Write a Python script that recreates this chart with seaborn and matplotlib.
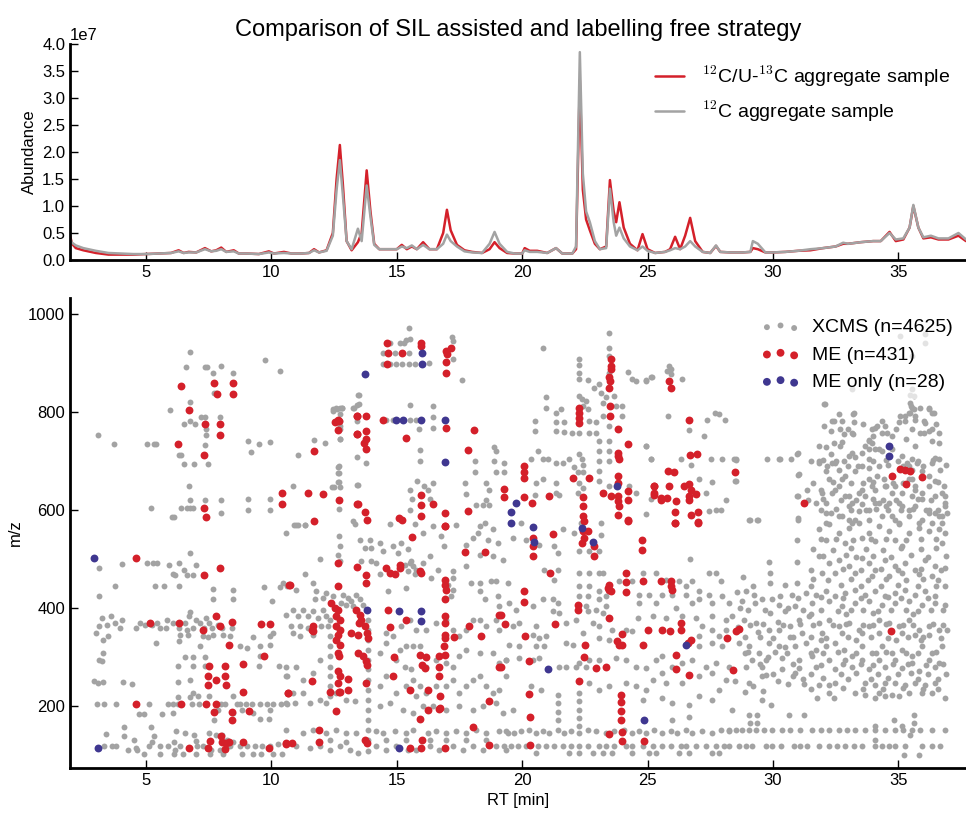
import numpy as np
import matplotlib
matplotlib.use("Agg")
import matplotlib.pyplot as plt
import seaborn as sns

# ---------------- chromatogram (TIC) data, abundance in units of 1e7 ----------------
tic_rt = [1.97, 2.05, 2.2, 2.5, 3.0, 3.5, 4.0, 4.5, 5.0, 5.5,
          6.0, 6.3, 6.5, 6.7, 7.0, 7.35, 7.6, 7.8, 8.0, 8.2,
          8.5, 8.7, 9.0, 9.5, 9.9, 10.1, 10.5, 10.8, 11.2, 11.5,
          11.7, 11.9, 12.2, 12.45, 12.6, 12.73, 12.85, 13.0, 13.2, 13.45,
          13.6, 13.8, 13.95, 14.1, 14.3, 14.6, 15.0, 15.2, 15.4, 15.6,
          15.8, 16.05, 16.3, 16.6, 16.85, 17.0, 17.15, 17.4, 17.7, 18.0,
          18.4, 18.7, 18.9, 19.1, 19.4, 19.7, 20.0, 20.1, 20.3, 20.6,
          21.0, 21.35, 21.6, 22.0, 22.15, 22.3, 22.42, 22.55, 22.7, 22.9,
          23.1, 23.35, 23.5, 23.65, 23.75, 23.88, 24.05, 24.3, 24.6, 24.8,
          25.0, 25.3, 25.7, 25.9, 26.1, 26.3, 26.5, 26.7, 26.9, 27.2,
          27.5, 27.73, 27.9, 28.3, 28.8, 29.1, 29.2, 29.4, 29.7, 30.0,
          30.5, 31.0, 31.5, 32.0, 32.5, 32.8, 33.0, 33.5, 34.0, 34.3,
          34.65, 34.9, 35.2, 35.45, 35.6, 35.8, 36.0, 36.3, 36.6, 37.0,
          37.4, 37.7]
tic_sil = [0.45, 0.3, 0.22, 0.18, 0.13, 0.1, 0.1, 0.1, 0.11, 0.12,
           0.13, 0.18, 0.13, 0.15, 0.14, 0.22, 0.16, 0.18, 0.23, 0.15,
           0.18, 0.12, 0.12, 0.11, 0.16, 0.12, 0.15, 0.12, 0.12, 0.13,
           0.2, 0.14, 0.18, 0.5, 1.5, 2.13, 1.4, 0.35, 0.18, 0.33,
           0.5, 1.66, 0.9, 0.3, 0.2, 0.2, 0.2, 0.28, 0.2, 0.25,
           0.2, 0.33, 0.2, 0.2, 0.5, 0.93, 0.55, 0.28, 0.18, 0.15,
           0.13, 0.2, 0.33, 0.22, 0.13, 0.12, 0.12, 0.22, 0.17, 0.17,
           0.13, 0.22, 0.12, 0.12, 0.2, 3.33, 1.3, 0.75, 0.55, 0.3,
           0.2, 0.25, 1.48, 0.9, 0.7, 1.07, 0.6, 0.3, 0.18, 0.48,
           0.2, 0.13, 0.15, 0.2, 0.43, 0.2, 0.45, 0.78, 0.35, 0.15,
           0.13, 0.26, 0.15, 0.14, 0.14, 0.15, 0.22, 0.2, 0.14, 0.14,
           0.15, 0.17, 0.18, 0.22, 0.25, 0.3, 0.3, 0.33, 0.35, 0.35,
           0.52, 0.35, 0.38, 0.6, 1.0, 0.6, 0.4, 0.42, 0.38, 0.38,
           0.45, 0.35]
tic_12c = [0.38, 0.32, 0.27, 0.22, 0.17, 0.13, 0.12, 0.11, 0.11, 0.12,
           0.13, 0.16, 0.13, 0.14, 0.14, 0.2, 0.16, 0.17, 0.2, 0.15,
           0.16, 0.12, 0.12, 0.11, 0.14, 0.12, 0.13, 0.12, 0.12, 0.13,
           0.18, 0.14, 0.17, 0.45, 1.3, 1.85, 1.2, 0.35, 0.2, 0.58,
           0.35, 1.38, 0.8, 0.28, 0.2, 0.2, 0.2, 0.25, 0.22, 0.27,
           0.2, 0.28, 0.2, 0.2, 0.3, 0.47, 0.35, 0.25, 0.16, 0.14,
           0.13, 0.3, 0.52, 0.3, 0.15, 0.12, 0.12, 0.18, 0.15, 0.15,
           0.13, 0.22, 0.12, 0.12, 0.25, 3.85, 1.6, 0.9, 0.7, 0.35,
           0.2, 0.22, 1.32, 0.7, 0.45, 0.6, 0.4, 0.25, 0.18, 0.25,
           0.17, 0.13, 0.15, 0.18, 0.22, 0.2, 0.25, 0.35, 0.25, 0.15,
           0.13, 0.27, 0.15, 0.14, 0.14, 0.15, 0.35, 0.3, 0.14, 0.14,
           0.15, 0.17, 0.2, 0.22, 0.25, 0.32, 0.3, 0.33, 0.35, 0.35,
           0.5, 0.38, 0.4, 0.6, 1.02, 0.6, 0.42, 0.45, 0.4, 0.4,
           0.5, 0.38]

# ---------------- feature maps: (RT [min], m/z) ----------------
xcms_upper_left = [
    (6.75,921),(6.6,892),(7.36,892),(7.42,892),(7.69,880),(7.99,893),(8.48,880),(9.74,906),(10.36,884),
    (7.7,838),(7.78,838),(6.74,819),(5.96,803),(6.5,775),(6.74,782),(6.95,775),(7.2,790),(7.37,790),
    (7.97,790),(7.4,765),(7.4,752),(3.09,752),(3.74,735),(5.05,735),(5.3,735),(5.38,735),(7.34,733),
    (6.3,711),(6.4,711),(6.5,694),(6.9,694),(7.48,694),(9.06,740),(9.17,718),(9.52,735),(9.94,739),
    (11.08,711),(11.7,743),(12.13,736),(12.46,801),(12.6,806),(12.72,808),(12.8,807),(13.44,835),
    (13.25,808),(13.43,813),(12.72,795),(12.73,782),(12.73,770),(12.73,744),(13.42,782),(13.42,708),
    (12.67,688),(12.67,675),(12.67,656),(12.72,646),(12.43,646),(13.42,650),(10.88,649),(6.71,649),
    (6.75,620),(7.37,620),(7.99,620),(5.2,604),(6.03,586),(6.1,586),(6.39,604),(6.63,604),(6.75,604),
    (6.86,604),(7.99,594),(9.06,622),(9.06,600),(9.94,622),(9.94,600),(10.92,569),(11.08,569),
    (11.36,569),(12.71,602),(13.27,577)]
xcms_upper_mid = [
    (15.48,970),(14.45,919),(14.71,941),(15.14,941),(15.27,941),(15.38,946),(15.52,948),(14.94,919),
    (15.48,919),(14.45,897),(14.71,897),(14.97,897),(15.2,897),(15.47,897),(15.74,897),(16.27,900),
    (17.21,953),(17.26,944),(17.26,908),(17.59,865),(13.49,835),(13.28,808),(13.49,815),(12.46,806),
    (12.59,808),(12.83,808),(15.51,814),(16.44,811),(14.58,784),(14.85,784),(15.51,784),(15.75,784),
    (16.44,789),(16.44,767),(15.88,764),(12.72,764),(12.72,744),(13.78,696),(15.93,721),(15.93,699),
    (12.7,689),(12.7,674),(12.7,656),(12.51,646),(13.47,650),(15.8,658),(16.07,648),(16.44,655),
    (15.51,641),(15.62,621),(15.51,600),(16.24,641),(16.31,621),(17.74,655),(17.77,633),(18.12,699),
    (18.12,677),(18.89,727),(18.96,720),(18.89,699),(19.29,696),(18.96,677),(19.29,677),(18.56,655),
    (18.69,640),(18.56,620),(18.16,609),(18.42,609),(18.69,609),(20.82,929),(20.95,829),(20.95,807),
    (20.53,782),(20.53,761),(21.35,798),(21.53,805),(21.35,778),(21.68,780),(21.35,761),(21.68,759),
    (22.25,907),(22.28,895),(22.25,880),(22.25,866),(22.61,864),(22.88,848),(23.05,856),(23.14,839),
    (23.34,829),(22.28,832),(22.38,825),(22.54,822),(22.41,812),(22.61,805),(23.45,961),(23.47,931),
    (23.47,914),(23.47,880),(23.47,866),(23.67,833),(23.21,818),(23.74,812),(24.0,812),(24.0,791),
    (23.21,791),(22.94,778),(22.68,781),(22.94,757),(22.68,757),(22.28,757),(21.99,757),(23.45,771),
    (24.24,881),(24.4,866),(24.53,863),(24.93,863),(25.13,870),(24.93,730),(23.07,740),(23.47,740),
    (23.07,720),(23.47,720),(23.07,699),(23.47,699),(23.07,679),(22.28,713),(22.38,703),(22.41,692),
    (22.21,677),(22.41,677),(22.28,655),(22.41,645),(22.21,635),(21.61,696),(21.88,703),(22.08,688),
    (21.48,631),(20.35,703),(20.62,720),(20.82,703),(21.02,703),(21.35,696),(20.55,655),(20.53,631),
    (20.82,662),(21.35,655),(21.35,635),(23.07,658),(23.47,648),(24.27,648),(24.53,635),(25.13,703)]
xcms_upper_right = [
    (25.86,893),(25.93,887),(25.79,883),(25.93,876),(24.93,865),(25.17,870),(26.36,867),(25.83,791),
    (26.66,762),(27.25,750),(27.69,797),(27.85,795),(28.09,784),(27.39,784),(24.93,731),(25.13,703),
    (26.32,703),(26.72,692),(27.52,703),(27.96,703),(28.45,703),(28.51,701),(29.77,703),(30.24,703),
    (30.74,703),(30.98,713),(31.03,672),(31.01,628),(31.37,640),(27.05,663),(27.59,656),(28.51,658),
    (25.13,621),(27.32,635),(28.11,620),(24.93,592),(27.45,597),(27.72,599),(27.92,599),(29.04,580),
    (29.38,580),(31.01,580),(28.54,703),(30.27,703),(30.99,715),(31.01,670),(28.49,658),(30.97,628),
    (29.07,580),(29.42,580),(31.01,583),
    (32.03,815),(33.16,846),(32.63,795),(32.03,771),(32.36,781),(32.76,781),(33.23,797),(33.23,778),
    (33.16,757),(33.82,740),(33.95,764),(34.15,771),(34.48,771),(34.35,757),(34.75,750),(35.02,778),
    (35.28,781),(35.41,798),(35.52,812),(35.61,805),(35.88,808),(35.68,791),(35.55,764),(36.21,805),
    (36.34,798),(36.01,757),(36.34,740),(36.61,737),(36.61,757),(36.34,764),(36.01,781),(31.83,730),
    (32.3,713),(32.69,730),(33.16,716),(33.69,730),(33.95,737),(34.22,723),(34.75,723),(31.83,696),
    (32.1,679),(32.36,696),(32.63,682),(32.89,669),(33.29,679),(33.82,703),(35.15,709),(35.35,696),
    (35.55,682),(35.75,696),(35.95,679),(36.34,696),(36.61,703),(36.67,682),(36.21,669),(36.48,658),
    (36.81,648),(36.87,628),(36.87,614),(36.61,587),(36.21,594),(35.95,621),(35.68,641),(35.41,662),
    (35.55,628),(35.41,600),(35.02,614),(34.75,635),(34.49,648),(34.15,669),(33.95,648),(33.69,628),
    (33.42,635),(33.16,614),(32.89,628),(32.63,648),(32.36,635),(32.1,614),(31.9,641),(32.3,594),
    (32.63,587),(33.03,580),(33.42,597),(33.82,600),(34.22,614),(34.49,607),(34.75,587),(35.02,573),
    (35.81,573),(36.34,573),(36.74,573),(32.1,573),(33.16,573),
    (32.06,816),(33.2,796),(32.43,782),(32.69,764),(32.83,754),(33.2,754),(32.1,728),(32.43,737),
    (32.76,738),(31.83,699),(32.16,689),(32.49,696),(32.83,699),(33.03,709),(33.27,708),(33.82,743),
    (34.06,767),(34.35,781),(34.55,757),(35.08,791),(35.28,791),(35.48,798),(35.55,808),(35.48,818),
    (35.48,835),(35.68,784),(36.08,777),(36.21,808),(36.41,798),(35.88,757),(36.21,760),(36.48,706),
    (35.68,730),(35.55,703),(35.41,689),(35.55,662),(33.56,716),(33.82,723),(34.09,723),(34.35,720),
    (33.56,689),(33.82,685),(34.22,689),(34.42,662),(33.82,662),(33.56,641),(34.09,641),(34.48,648),
    (34.88,648),(35.15,634),(35.68,648),(35.94,634),(36.21,648),(36.48,628),(36.74,634),(36.87,607),
    (36.94,594),(36.74,587),(36.21,600),(35.68,607),(35.15,607),(34.62,614),(34.09,614),(33.56,611),
    (33.03,628),(33.03,607),(32.49,641),(32.23,662),(32.76,662),(31.96,634),(31.7,614),(32.1,594),
    (32.76,587),(33.29,580),(33.82,580),(34.35,587),(34.88,580),(35.41,587),(35.94,580),(36.48,594),
    (35.08,955),(36.05,959),(36.05,941),(35.55,914),(35.55,846),(35.61,833)]
xcms_lower_left = [
    (3.14,481),(4.06,489),(5.05,491),(5.29,491),(5.45,491),(5.93,487),(6.15,466),(6.06,468),(6.31,491),
    (6.51,476),(6.62,466),(6.88,466),(6.99,487),(6.75,511),(3.77,444),(3.14,423),(5.36,444),(5.72,444),
    (6.31,444),(7.68,438),(7.68,418),(8.48,437),(8.48,418),(9.72,442),(10.36,442),(10.04,413),(10.63,445),
    (2.99,348),(3.14,362),(3.26,379),(3.43,365),(3.61,383),(3.77,369),(3.97,359),(4.03,376),(4.59,359),
    (4.76,368),(4.96,365),(5.23,365),(5.42,368),(5.56,359),(5.79,359),(5.85,376),(6.09,368),(6.31,359),
    (6.55,368),(6.64,355),(6.88,359),(6.99,376),(7.15,368),(7.31,359),(7.41,379),(7.52,368),(7.65,359),
    (7.88,365),(8.05,359),(8.41,359),(6.75,391),(6.73,384),(6.35,345),(6.68,345),(7.28,342),(7.48,340),
    (7.68,345),(5.38,329),(3.27,335),(3.5,343),(3.27,308),(3.13,294),(3.24,291),(6.33,333),(7.15,321),
    (8.08,345),(8.34,342),(8.74,321),(9.01,318),(9.27,340),(9.54,321),(9.94,342),(9.94,325),(9.56,301),
    (9.5,282),(10.07,348),(10.31,282),(10.6,280),(10.64,260),(6.55,299),(6.86,299),(7.35,299),(6.29,282),
    (6.86,282),(7.35,282),(2.92,250),(3.1,246),(3.27,248),(4.07,248),(4.43,244),(6.29,248),(6.76,252),
    (6.88,226),(7.06,219),(6.29,218),(6.75,218),(7.52,219),(8.48,219),
    (3.06,204),(3.34,204),(3.81,204),(5.12,204),(5.89,204),(6.09,204),(6.29,204),(6.82,204),(7.12,204),
    (7.99,204),(8.14,204),(8.61,204),(8.74,204),(8.98,204),(9.21,204),(9.54,204),(9.81,204),(10.07,204),
    (10.4,204),(10.63,204),
    (4.72,183),(4.93,183),(5.62,183),(6.09,186),(8.81,192),(9.27,185),(9.54,173),(9.91,173),(9.94,192),
    (7.88,192),(8.48,186),(7.72,171),(3.41,143),(4.11,156),(4.14,139),(4.51,130),(4.6,113),(5.18,156),
    (5.32,139),(5.25,127),(6.21,148),(6.1,127),(6.55,144),(6.93,141),(7.0,129),
    (3.34,117),(3.63,117),(3.81,117),(5.13,117),(5.56,117),(5.89,117),(6.35,117),(7.02,117),(7.28,117),
    (8.34,117),(8.74,117),(9.01,117),(9.34,117),(9.64,117),(9.94,117),(4.3,109),(4.66,109),(6.15,110),
    (10.27,123),(4.92,101),(5.56,101),(6.12,101),(6.49,101),(6.99,101),(7.55,101),(8.08,101),(8.81,101),
    (9.27,101),(9.6,101),(10.07,101),(10.44,101),(7.52,144),(7.81,141),(8.05,141),(8.21,130),(8.48,127),
    (7.95,110),(7.61,110)]
xcms_lower_mid = [
    (11.0,568),(11.33,568),(13.32,570),(14.71,570),(15.71,570),(16.04,553),(16.44,566),(17.37,568),
    (18.3,566),(18.5,572),(18.83,560),(10.6,553),(12.7,546),(12.72,526),(12.66,508),(12.72,495),
    (13.52,539),(13.72,522),(13.92,539),(13.98,522),(14.32,532),(14.45,515),(14.85,526),(15.18,532),
    (15.04,512),(15.44,519),(15.51,491),(15.64,485),(15.78,478),(15.44,474),(15.91,474),(15.71,468),
    (15.58,495),(15.31,488),(16.04,491),(11.93,500),(13.59,495),(13.98,495),(14.18,491),(14.32,468),
    (14.65,434),(15.38,440),(17.23,474),(17.23,461),(17.04,447),(17.23,437),(17.17,423),(16.31,505),
    (16.64,478),(16.37,461),(16.77,546),(16.9,526),(17.77,529),(18.03,543),(18.23,553),(18.63,539),
    (19.03,532),(18.3,508),(18.83,505),(17.77,485),(17.96,451),(18.3,451),(18.76,454),(18.96,454),
    (18.3,434),(18.5,417),(19.03,423),(19.42,451),(10.47,451),(11.0,437),(11.33,468),(11.66,451),
    (11.79,434),(12.06,420),(12.19,430),(11.73,417),(12.46,423),(12.85,427),(13.05,420),(13.19,413),
    (13.39,427),(13.52,417),(12.99,406),(13.25,403),(12.79,410),(13.65,406),
    (10.87,396),(11.26,396),(11.66,393),(12.06,396),(10.6,386),(11.06,383),(11.46,383),(11.86,379),
    (12.19,383),(10.8,362),(11.13,362),(11.46,359),(11.99,362),(12.26,362),(10.87,348),(11.13,342),
    (11.66,345),
    (12.33,376),(12.33,342),(12.33,321),(12.33,301),(12.33,280),(12.33,260),(12.33,240),(12.33,219),
    (13.85,376),(13.85,355),(13.85,335),(13.85,314),(13.85,294),(13.85,274),(13.85,253),(13.85,233),
    (13.85,212),(13.85,192),(13.85,171),(13.85,151),(13.85,131),(13.85,107),
    (14.32,308),(14.58,348),(14.58,328),(14.85,342),(15.18,362),(15.51,376),(15.78,355),(16.17,355),
    (16.57,369),(16.97,376),(17.23,355),(17.5,342),(17.77,355),(18.03,376),(18.3,376),(18.56,362),
    (18.96,376),(19.09,355),(15.11,314),(15.38,321),(15.64,321),(15.91,321),(14.98,294),(15.31,280),
    (15.58,274),(16.17,280),(16.57,294),(16.97,287),(17.23,280),(17.5,301),(17.77,314),(18.3,308),
    (18.83,308),(19.09,287),(19.36,294),
    (10.6,260),(11.0,280),(11.26,253),(11.66,267),(11.93,294),(10.87,226),(11.26,226),(11.53,205),
    (11.93,212),(10.93,205),(10.6,205),(12.19,205),(12.59,226),(12.99,212),(13.32,209),
    (14.32,240),(14.58,260),(14.98,226),(15.38,240),(15.64,253),(15.91,240),(15.78,219),(16.17,226),
    (16.57,240),(16.97,240),(17.23,253),(17.5,226),(17.77,240),(18.03,253),(18.3,260),(18.56,240),
    (18.83,226),(19.09,233),(19.36,260),
    (14.32,199),(14.71,205),(15.24,192),(15.64,185),(16.04,199),(16.44,199),(16.97,192),(17.5,199),
    (18.03,192),(18.43,199),(18.96,205),(19.22,185),
    (10.6,151),(11.26,144),(11.66,151),(12.19,144),(12.59,151),(12.99,144),(13.39,144),(14.18,148),
    (14.45,144),(14.91,148),(15.38,144),(15.64,151),(16.24,144),(16.57,148),(16.97,144),(17.37,148),
    (17.77,144),(18.16,151),(18.56,144),(19.09,148),(19.42,144),
    (11.0,117),(11.53,114),(11.93,117),(12.33,110),(12.72,117),(13.12,110),(13.45,103),(14.18,117),
    (14.58,110),(14.98,117),(15.44,110),(15.78,110),(16.31,117),(16.7,110),(17.23,117),(17.63,110),
    (18.03,117),(18.43,110),(18.96,117),(19.36,110),
    (12.33,130),(12.99,127),(14.58,130),(15.38,130),(16.31,130),(16.97,130),(17.77,130),(18.56,130)]
xcms_lower_right = [
    (19.22,498),(19.62,543),(19.95,573),(20.15,539),(20.68,529),(21.28,526),(21.41,512),(21.61,560),
    (22.08,553),(22.28,515),(22.67,515),(23.07,515),(23.14,573),(23.14,549),(22.34,573),(26.68,500),
    (20.88,476),(21.28,457),(21.41,478),(22.28,471),(22.67,471),(23.07,471),(23.23,471),(22.28,444),
    (22.67,444),(23.07,434),(23.34,423),(23.87,454),(24.4,454),(24.8,471),(25.33,471),(25.73,457),
    (26.26,454),(26.52,444),(27.05,434),(27.45,471),(27.72,471),(27.92,454),(26.79,454),
    (22.28,423),(22.61,423),(22.28,406),(22.54,403),(22.61,393),(23.07,417),(23.34,403),(22.94,396),
    (23.21,389),(21.22,417),(21.41,410),(21.48,389),(21.22,393),(20.82,417),(20.42,403),(19.49,410),
    (19.76,396),(19.09,403),
    (24.67,427),(25.06,427),(25.59,427),(25.99,427),(26.52,427),(27.05,417),(27.45,427),(27.98,423),
    (24.67,410),(25.33,410),(26.12,400),(26.79,410),(27.58,410),(28.25,410),(24.6,379),(25.2,383),
    (25.73,379),(26.39,383),(26.92,379),(27.58,383),(28.12,376),(27.19,362),(27.58,355),(27.85,342),
    (27.05,342),(27.05,321),(27.58,328),(27.98,321),(28.12,355),
    (19.62,362),(19.89,369),(20.55,362),(20.42,345),(20.68,338),(20.95,342),(21.75,369),(22.14,376),
    (22.81,369),(23.07,362),(23.6,355),(24.13,355),(24.4,352),(22.41,348),(23.07,338),(23.47,335),
    (21.75,328),(22.01,325),(20.88,321),(20.55,321),(19.89,321),(19.49,325),
    (19.36,294),(19.89,297),(20.42,294),(20.68,297),(21.48,280),(21.75,280),(22.14,280),(22.28,287),
    (22.54,280),(22.67,294),(23.07,294),(23.74,297),(24.13,294),(24.53,280),(24.93,277),(25.33,294),
    (25.59,301),(25.99,280),(26.39,287),(26.79,294),(27.32,280),(27.72,287),(28.25,280),(25.59,267),
    (25.2,253),(25.73,246),(26.39,246),(27.05,260),(27.58,267),(28.12,253),
    (19.62,192),(20.35,240),(20.75,233),(21.41,222),(21.41,205),(21.41,188),(21.41,171),(22.25,226),
    (22.28,209),(22.28,192),(22.28,175),(22.28,158),(22.67,246),(23.07,233),(23.47,240),(24.13,246),
    (24.53,240),(24.93,233),(24.8,212),(25.59,216),(25.99,205),(26.66,202),(27.05,219),(27.58,212),
    (27.85,233),(25.99,171),(26.66,178),
    (19.36,148),(19.69,144),(19.95,148),(20.29,151),(20.55,144),(20.82,148),(21.08,144),(21.41,151),
    (21.68,144),(21.95,148),(22.28,144),(22.61,151),(22.94,148),(23.34,144),(23.67,148),(24.07,151),
    (24.4,144),(24.67,148),(24.93,144),(25.26,151),(25.59,144),(25.93,148),(26.19,144),(26.52,151),
    (26.79,144),(27.19,148),(27.58,144),(27.92,151),(28.25,148),
    (19.29,117),(19.56,117),(19.82,117),(20.15,117),(20.62,117),(20.95,117),(21.28,117),(21.61,117),
    (21.95,117),(22.28,117),(22.61,117),(23.07,117),(23.34,117),(23.67,117),(24.13,117),(24.4,117),
    (24.8,117),(25.2,117),(25.59,117),(25.93,117),(26.32,117),(26.52,117),(26.92,117),(27.32,117),
    (27.72,117),(28.05,117),
    (20.55,103),(21.88,103),(22.28,103),(22.81,103),(23.21,103),(23.6,103),(24.4,103),(25.06,103),
    (25.33,103),(26.26,103),(26.66,103),(27.58,103),(27.85,103)]
xcms_lower_far = [
    (31.83,560),(32.23,570),(32.63,553),(33.03,563),(33.42,573),(33.82,553),(34.22,566),(34.62,556),
    (35.02,570),(35.41,553),(35.81,563),(36.21,556),(36.61,560),(36.87,553),(30.97,539),(32.1,539),
    (32.89,532),(33.56,543),(34.09,536),(34.88,539),(35.15,526),(36.74,532),
    (29.84,493),(30.97,493),(29.88,471),(31.83,505),(32.23,491),(32.63,498),(33.03,485),(33.56,502),
    (33.82,491),(34.09,478),(34.48,498),(34.88,485),(35.28,491),(35.68,478),(36.08,498),(36.48,485),
    (36.87,481),(31.96,471),(32.49,471),(33.29,471),(33.95,464),(34.62,464),(35.15,471),(35.81,468),
    (36.34,464),(28.82,463),(29.88,451),(30.97,451),
    (28.58,432),(28.91,434),(29.24,427),(29.58,417),(29.97,417),(30.3,423),(30.77,427),(31.3,430),
    (31.7,427),(32.1,434),(32.49,423),(32.89,430),(33.29,437),(33.69,427),(34.09,434),(34.48,423),
    (34.88,430),(35.28,437),(35.68,427),(36.08,434),(36.48,423),(36.87,444),(28.78,413),(30.24,406),
    (30.9,403),(31.57,410),(32.23,413),(32.76,403),(33.29,410),(33.82,413),(34.35,406),(34.88,410),
    (35.41,413),(35.94,406),(36.48,410),(36.87,406),
    (28.38,383),(28.85,376),(29.31,369),(29.84,355),(30.24,355),(30.7,362),(31.03,376),(31.43,383),
    (31.83,369),(32.23,376),(32.63,362),(33.03,369),(33.42,355),(33.82,362),(34.22,376),(34.62,369),
    (35.02,362),(35.41,376),(35.81,355),(36.21,362),(36.61,355),(36.94,355),(31.17,348),(31.96,348),
    (32.76,348),(33.56,348),(34.22,348),(35.15,348),(35.68,345),(36.21,345),
    (28.65,328),(29.04,321),(29.44,308),(29.84,328),(30.24,321),(30.57,308),(30.9,321),(31.3,328),
    (31.7,314),(32.1,321),(32.49,328),(32.83,314),(33.16,301),(33.56,321),(33.95,308),(34.35,321),
    (34.75,308),(35.15,314),(35.55,301),(35.94,321),(36.34,308),(36.74,321),(29.18,294),(29.71,294),
    (30.37,297),(31.03,294),(31.57,301),(32.23,294),(32.89,294),(33.56,294),(34.22,294),(34.88,294),
    (35.55,287),(36.21,294),(36.61,287),
    (28.91,280),(29.58,280),(30.37,274),(31.03,277),(31.7,280),(32.49,274),(33.16,280),(33.82,274),
    (34.48,280),(35.15,277),(35.81,270),(36.48,280),
    (29.04,246),(29.58,260),(29.71,263),(30.61,245),(31.23,245),(31.83,243),(32.23,243),(32.47,246),
    (33.69,246),(34.09,243),(34.48,246),(34.88,246),(35.28,243),(35.68,246),(36.08,243),(36.48,246),
    (32.23,226),(33.29,226),(33.69,222),(34.22,226),(34.75,222),(35.41,226),(35.94,226),(36.34,226),
    (31.76,216),(32.43,216),(34.09,216),(34.48,219),(35.02,219),(36.87,216),(28.88,229),(29.58,212),
    (29.91,202),(28.38,192),
    (29.04,182),(29.38,182),(30.64,182),(31.23,182),(29.07,165),(29.38,165),(34.82,171),(35.61,182),
    (35.61,165),
    (28.25,150),(28.51,150),(28.78,150),(29.04,150),(29.31,150),(29.64,150),(29.97,150),(30.37,150),
    (30.7,150),(31.1,150),(31.57,150),(31.9,150),(32.23,150),(32.63,150),(32.96,150),(33.29,150),
    (33.69,150),(34.09,150),(34.48,150),(34.88,150),(35.2,150),(35.55,150),(35.88,150),(36.34,150),
    (36.87,150),
    (28.25,117),(28.65,117),(28.91,117),(29.18,117),(29.71,117),(29.97,117),(30.31,117),(30.84,117),
    (31.1,117),(31.37,117),(31.83,117),(32.23,117),(32.56,117),(32.89,117),(33.22,117),(33.56,117),
    (34.09,117),(34.35,117),(34.62,117),(34.88,117),(35.28,117),(35.94,117),(36.34,117),(36.67,117),
    (35.21,100),(35.81,100),(34.09,158),(34.09,131),(35.15,158),(35.48,141)]
xcms_cluster_dense = [
    (31.6,520),(32.4,518),(33.1,522),(33.7,520),(34.4,517),(35.1,522),(35.9,519),(36.5,521),
    (32.0,505),(32.9,507),(33.3,503),(34.0,506),(34.7,504),(35.5,507),(36.2,503),(36.9,506),
    (31.5,478),(32.8,480),(33.5,477),(34.3,479),(35.0,478),(35.9,480),(36.7,477),
    (31.6,458),(32.2,456),(33.1,459),(33.8,457),(34.5,458),(35.3,456),(36.0,459),(36.6,457),
    (29.2,445),(30.5,446),(31.5,444),(32.7,446),(33.5,445),(34.3,444),(35.0,446),(35.8,445),(36.5,444),
    (31.0,420),(31.9,421),(32.8,419),(33.5,420),(34.6,421),(35.1,419),(36.2,420),
    (29.0,395),(29.7,396),(30.5,394),(31.2,396),(31.9,395),(32.6,394),(33.1,396),(33.6,395),
    (34.2,394),(34.7,396),(35.3,395),(35.8,394),(36.3,396),(36.8,395),
    (31.5,388),(32.9,388),(34.0,389),(35.6,388),
    (29.1,365),(29.6,366),(30.4,364),(31.1,366),(31.6,365),(32.4,364),(32.9,366),(33.6,365),
    (34.0,364),(34.5,366),(35.2,365),(35.6,364),(36.4,366),(36.8,365),
    (28.9,340),(29.5,341),(30.0,339),(30.8,340),(31.5,341),(32.1,339),(33.0,340),(33.9,341),
    (34.6,339),(35.4,340),(36.0,341),(36.7,339),(31.9,334),(33.3,335),(34.9,334),(35.9,335),
    (28.9,308),(30.1,309),(31.5,307),(32.0,308),(32.6,309),(33.3,307),(34.1,308),(34.5,309),
    (35.3,307),(35.8,308),(36.5,309),
    (29.5,285),(30.8,286),(31.9,284),(32.8,285),(33.5,286),(34.0,284),(34.8,285),(35.4,286),
    (36.1,284),(36.8,285),
    (30.0,265),(30.9,266),(31.5,264),(32.7,265),(33.3,266),(34.2,264),(35.0,265),(35.5,266),
    (36.2,264),(36.9,265),
    (31.2,255),(32.0,256),(33.0,254),(33.9,255),(34.6,256),(35.8,254),(36.6,255),
    (31.5,235),(32.8,236),(33.6,234),(34.4,235),(35.2,236),(36.0,234),(36.6,235),
    (31.5,700),(32.0,701),(32.5,699),(34.0,700),(34.5,701),(35.0,699),(35.8,700),(36.4,701),
    (33.0,690),(33.4,689),(34.6,691),(35.2,690),(36.0,689),(36.9,691),
    (31.6,655),(32.4,656),(33.1,654),(33.6,655),(34.0,656),(34.8,654),(35.2,655),(36.6,656),
    (31.4,620),(32.0,621),(32.7,619),(33.3,620),(34.0,621),(34.4,619),(34.9,620),(35.8,621),(36.3,619),
    (31.9,600),(32.5,601),(33.1,599),(33.7,600),(34.1,601),(34.6,599),(35.1,600),(35.6,601),
    (36.1,599),(36.6,600),
    (31.9,540),(32.5,541),(33.2,539),(33.9,540),(34.5,541),(35.3,539),(35.9,540),(36.5,541),
    (32.3,760),(33.0,765),(33.6,775),(34.0,750),(34.9,765),(35.3,745),(36.5,775),
    (28.7,400),(29.3,410),(29.9,390),(30.6,400),(28.6,360),(29.4,350),(30.2,370),(30.7,340),
    (29.0,310),(29.8,300),(30.5,320),(28.5,250),(29.2,240),(30.2,250),(30.8,260),(29.6,230)]

me_points = [
    (6.39,852),(7.73,859),(8.45,859),(7.83,836),(8.45,836),(6.7,803),(7.36,775),(7.96,775),(7.97,752),
    (6.27,735),(7.3,711),(11.69,720),(12.54,780),(12.67,784),(12.7,782),(12.67,763),(13.42,791),
    (13.42,754),(10.41,635),(10.41,612),(11.44,635),(12.06,632),(12.7,620),(13.42,612),(7.3,604),
    (7.38,586),(11.69,578),
    (14.61,941),(14.66,919),(14.61,897),(15.2,919),(15.97,941),(15.97,934),(16.97,924),(17.18,929),
    (17.0,917),(16.97,902),(16.97,878),(13.43,791),(13.76,791),(13.43,754),(13.76,761),(13.76,744),
    (13.69,737),(13.76,723),(14.47,784),(15.38,746),(16.97,767),(18.06,762),(17.83,722),(20.09,689),
    (20.09,677),(20.09,665),(19.27,643),(19.27,626),(20.09,626),(20.39,614),(21.08,628),(22.01,665),
    (22.65,665),(22.28,808),(22.28,798),(22.28,788),(22.28,776),(23.54,907),(23.54,893),(23.54,887),
    (23.45,870),(23.5,863),(23.45,849),(23.5,812),(23.5,791),(23.82,765),(24.23,735),(23.82,716),
    (23.82,709),(23.87,703),(23.82,669),(23.82,655),(23.54,628),(23.82,628),(23.82,618),(23.87,607),
    (23.82,590),(24.23,639),(24.23,619),(24.23,579),(23.21,635),(25.26,648),(25.26,631),(22.44,626),
    (22.44,607),(22.44,587),(22.48,577),(13.47,612),(13.75,596),(13.81,580),(15.97,631),(15.97,609),
    (15.97,588),(16.44,612),(16.94,594),(16.94,566),(17.85,597),(15.07,583),(15.2,579),
    (25.86,863),(25.95,849),(26.66,784),(26.68,712),(26.96,713),(25.83,680),(26.06,677),(28.49,677),
    (25.26,648),(25.86,648),(26.46,648),(26.66,652),(26.72,641),(25.26,635),(25.53,624),(25.53,620),
    (25.79,624),(26.13,618),(26.66,628),(26.66,620),(26.95,633),(26.09,596),(26.72,590),(27.03,596),
    (26.09,573),(27.03,575),(31.23,614),(34.75,669),(35.08,684),(35.28,682),(35.48,679),(35.95,667),
    (35.32,653),
    (4.6,502),(7.31,466),(7.95,481),(7.79,384),(7.95,362),(7.28,355),(8.44,371),(5.16,368),(6.31,368),
    (9.59,366),(9.96,366),(8.32,324),(9.7,301),(7.52,282),(8.15,282),(8.87,286),(7.48,260),(7.81,252),
    (8.15,260),(7.48,242),(8.2,242),(8.87,229),(4.59,204),(6.39,204),(7.38,204),(7.81,204),(7.72,188),
    (8.44,188),(9.11,190),(8.44,171),(7.55,129),(8.01,139),(8.04,127),(8.17,125),(8.32,127),(8.85,127),
    (6.7,113),(7.48,113),(8.15,112),(9.91,113),(10.67,226),(10.71,446),(10.6,124),
    (12.39,410),(12.52,400),(12.66,396),(12.59,383),(12.72,376),(12.59,362),(12.72,355),(12.66,345),
    (12.59,335),(12.72,325),(12.66,308),(12.7,301),(12.66,270),(12.72,260),(12.66,246),(12.72,229),
    (13.39,396),(13.52,386),(13.59,376),(13.49,369),(13.72,362),(13.81,348),(13.85,338),(13.65,301),
    (13.76,291),(13.81,284),(13.76,246),(13.72,130),(13.81,124),
    (11.66,362),(11.66,352),(13.19,348),(13.45,345),(13.45,308),(12.66,491),(12.66,444),(13.41,483),
    (13.76,466),(13.76,451),(14.58,481),(14.71,471),(14.91,468),(15.11,488),(15.14,481),(15.93,474),
    (15.97,470),(15.6,545),(16.94,566),(17.73,513),(18.5,513),
    (16.94,457),(16.94,447),(16.96,437),(16.94,417),(16.94,383),(16.94,369),(16.94,345),(16.94,338),
    (16.9,321),(16.94,304),(16.7,301),(16.7,280),(16.7,261),(16.73,219),
    (10.76,447),(11.63,355),(11.6,250),(10.67,226),(12.35,229),(12.7,229),(13.05,254),(13.05,233),
    (12.59,190),(11.89,151),(11.89,126),(10.6,122),(10.84,124),(14.65,396),(15.38,374),(14.71,361),
    (14.87,299),(14.85,260),(15.91,304),(16.17,299),(16.01,284),(16.11,277),(15.51,233),(16.24,233),
    (16.24,192),(16.68,193),(15.93,173),(16.01,130),(15.97,113),(15.51,113),(16.94,113),(17.3,340),
    (17.88,362),(18.36,342),(19.09,386),(19.32,367),(19.09,280),(18.69,210),(18.03,156),(18.69,120),
    (16.73,195),
    (20.45,543),(20.42,526),(20.42,505),(21.22,551),(22.41,556),(22.48,543),(22.38,532),(22.85,526),
    (22.85,505),(22.61,556),(24.24,577),(24.76,539),(24.76,517),(26.08,572),(27.01,573),(21.11,471),
    (20.09,434),(20.09,412),(19.16,386),(20.13,342),(21.31,367),(22.21,406),(22.21,396),(23.47,447),
    (23.47,437),(23.54,434),(23.41,440),(23.47,379),(24.13,470),(24.13,453),(24.13,432),(24.82,454),
    (25.53,454),(25.93,454),(25.93,444),(25.97,437),(25.0,354),(25.57,354),(25.89,352),(26.32,369),
    (26.32,354),(26.72,335),(26.63,329),(23.98,347),(23.8,333),(23.87,325),(24.0,325),(24.8,325),
    (22.5,323),(22.48,299),(23.34,280),(22.94,277),(22.25,250),(20.26,291),(19.16,280),(26.12,304),
    (26.12,276),(26.66,262),(20.29,224),(20.31,178),(20.31,120),(23.94,222),(23.94,207),(23.94,190),
    (23.94,171),(23.98,146),(23.98,129),(23.47,143),(24.86,129),(28.15,338),
    (28.51,352),(28.65,357),(28.41,272),(34.71,353)]

me_only_points = [
    (2.93,502),(3.1,113),(13.74,876),(15.99,919),(15.99,897),(14.98,784),(15.24,784),(15.97,784),
    (16.92,784),(16.92,697),(19.76,614),(19.56,596),(19.56,573),(20.45,565),(20.46,534),(22.38,563),
    (22.83,534),(23.8,648),(13.82,396),(15.08,393),(15.97,393),(15.97,372),(15.07,113),(26.52,323),
    (21.04,274),(24.84,171),(34.64,731),(34.64,709)]

xcms_all = (xcms_upper_left + xcms_upper_mid + xcms_upper_right + xcms_lower_left
            + xcms_lower_mid + xcms_lower_right + xcms_lower_far + xcms_cluster_dense)
xcms_rt, xcms_mz = zip(*xcms_all)
me_rt, me_mz = zip(*me_points)
only_rt, only_mz = zip(*me_only_points)

# ---------------- style ----------------
sns.set_style("ticks")
plt.rcParams["font.family"] = ["Liberation Sans", "DejaVu Sans"]
plt.rcParams["mathtext.fontset"] = "cm"
for key in ("text.color", "axes.labelcolor", "xtick.color", "ytick.color"):
    plt.rcParams[key] = "black"

RED = "#d4202a"
GRAY = "#a3a3a3"
BLUE = "#3f3790"

fig = plt.figure(figsize=(9.66, 8.14), dpi=100)
ax1 = fig.add_axes([0.0725, 0.6806, 0.9275, 0.2653])
ax2 = fig.add_axes([0.0725, 0.0565, 0.9275, 0.5774])

# ---- top: chromatograms ----
sns.lineplot(x=tic_rt, y=np.array(tic_sil) * 1e7, ax=ax1, color=RED, lw=1.8,
             estimator=None, sort=False, label=r"$^{12}$C/U-$^{13}$C aggregate sample")
sns.lineplot(x=tic_rt, y=np.array(tic_12c) * 1e7, ax=ax1, color=GRAY, lw=1.8,
             estimator=None, sort=False, label=r"$^{12}$C aggregate sample")
ax1.set_xlim(1.97, 37.7)
ax1.set_ylim(0, 4e7)
ax1.set_yticks(np.arange(0, 4.01e7, 0.5e7))
ax1.set_xticks([5, 10, 15, 20, 25, 30, 35])
ax1.set_ylabel("Abundance", fontsize=12)
ax1.set_xlabel("")
ax1.set_title("Comparison of SIL assisted and labelling free strategy", fontsize=17, pad=6)
ax1.yaxis.get_offset_text().set_fontsize(12)
ax1.legend(loc="upper right", frameon=False, fontsize=14, handlelength=1.5,
           handletextpad=0.9, borderaxespad=0.6, bbox_to_anchor=(1.004, 1.0))

# ---- bottom: feature maps ----
sns.scatterplot(x=list(xcms_rt), y=list(xcms_mz), ax=ax2, color=GRAY, s=18, linewidth=0,
                zorder=2, label="XCMS (n=4625)")
sns.scatterplot(x=list(me_rt), y=list(me_mz), ax=ax2, color=RED, s=32, linewidth=0,
                zorder=3, label="ME (n=431)")
sns.scatterplot(x=list(only_rt), y=list(only_mz), ax=ax2, color=BLUE, s=32, linewidth=0,
                zorder=4, label="ME only (n=28)")
ax2.set_xlim(1.97, 37.7)
ax2.set_ylim(73, 1032)
ax2.set_xticks([5, 10, 15, 20, 25, 30, 35])
ax2.set_yticks([200, 400, 600, 800, 1000])
ax2.set_xlabel("RT [min]", fontsize=12)
ax2.set_ylabel("m/z", fontsize=12)
leg = ax2.legend(loc="upper right", scatterpoints=3, scatteryoffsets=[0.375, 0.5, 0.3125],
                 fontsize=14, frameon=True, framealpha=0.7, facecolor="white",
                 edgecolor="none", handletextpad=0.6, borderaxespad=0.3,
                 bbox_to_anchor=(1.0, 0.985))
leg.set_zorder(5)

for ax in (ax1, ax2):
    sns.despine(ax=ax)
    for sp in ("left", "bottom"):
        ax.spines[sp].set_linewidth(2)
        ax.spines[sp].set_color("black")
    ax.tick_params(direction="in", length=6, width=1, labelsize=12, colors="black")

fig.savefig("out.png", dpi=100)
